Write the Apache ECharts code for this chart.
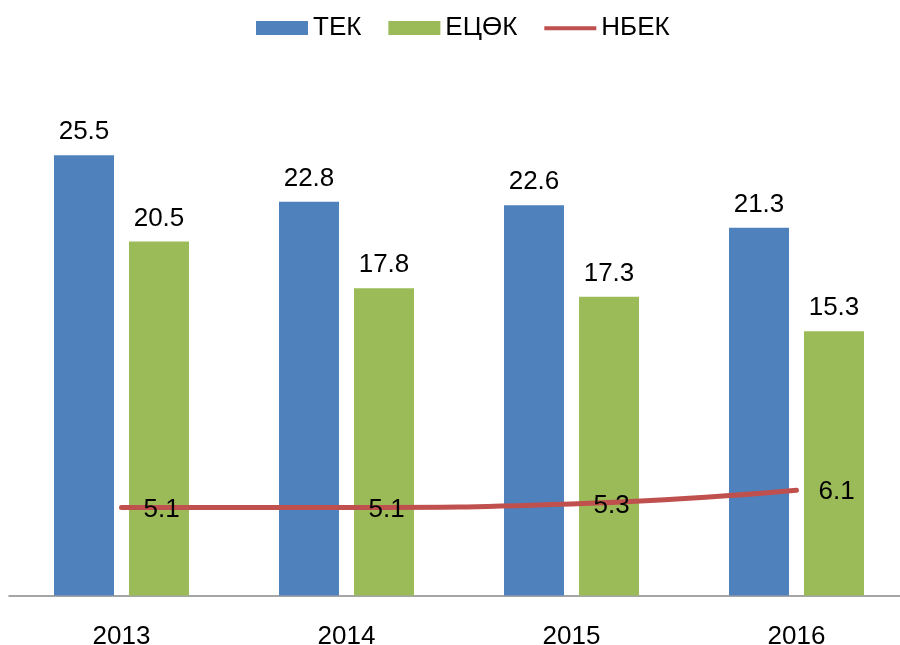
<!DOCTYPE html>
<html>
<head>
<meta charset="utf-8">
<script src="https://cdn.jsdelivr.net/npm/echarts@6/dist/echarts.min.js"></script>
<style>
  html, body { margin: 0; padding: 0; background: #fff; }
  #charts { width: 900px; height: 645px; }
</style>
</head>
<body>
<div id="charts"></div>
<script>
// data
const years = ['2013', '2014', '2015', '2016'];
const tek = [25.5, 22.8, 22.6, 21.3];
const etsok = [20.5, 17.8, 17.3, 15.3];
const nbek = [5.1, 5.1, 5.3, 6.1];

const font = '"Liberation Sans", Arial, sans-serif';
// thin bar inside a 56x14 box, used as legend icon for the line
const lineIcon = 'path://M0,0L0.01,0Z M0,5L56,5L56,9.5L0,9.5Z M0,14L0.01,14Z';

let myChart = echarts.init(document.getElementById('charts'));
myChart.setOption({
    animation: false,
    textStyle: { fontFamily: font },
    legend: {
        top: 10,
        left: 251,
        itemWidth: 52,
        itemHeight: 14,
        itemGap: 27,
        textStyle: { fontSize: 26, color: '#000', fontFamily: font },
        data: [
            { name: 'ТЕК', icon: 'rect' },
            { name: 'ЕЦӨК', icon: 'rect' },
            { name: 'НБЕК', icon: lineIcon }
        ]
    },
    grid: { left: 9, right: -9, top: 77.5, bottom: 49.5, containLabel: false, outerBoundsMode: 'none' },
    xAxis: {
        type: 'category',
        data: years,
        axisLine: { lineStyle: { color: '#888', width: 1.5 } },
        axisTick: { show: false },
        axisLabel: { fontSize: 26, color: '#000', margin: 28, fontFamily: font }
    },
    yAxis: {
        type: 'value',
        min: 0,
        max: 30,
        show: false,
        splitLine: { show: false }
    },
    series: [{
        name: 'ТЕК',
        type: 'bar',
        data: tek,
        barWidth: 60,
        barGap: '25%',
        itemStyle: { color: '#4F81BD' },
        label: { show: true, position: 'top', distance: 10, fontSize: 26, color: '#000', fontFamily: font }
    }, {
        name: 'ЕЦӨК',
        type: 'bar',
        data: etsok,
        barWidth: 60,
        itemStyle: { color: '#9BBB59' },
        label: { show: true, position: 'top', distance: 10, fontSize: 26, color: '#000', fontFamily: font }
    }, {
        name: 'НБЕК',
        type: 'line',
        data: nbek,
        smooth: true,
        symbol: 'circle',
        symbolSize: 0.01,
        lineStyle: { color: '#C0504D', width: 5, cap: 'round' },
        itemStyle: { color: '#C0504D' },
        label: { show: true, position: 'right', distance: 22, offset: [0, 2], fontSize: 26, color: '#000', fontFamily: font },
        z: 5
    }]
});
</script>
</body>
</html>
